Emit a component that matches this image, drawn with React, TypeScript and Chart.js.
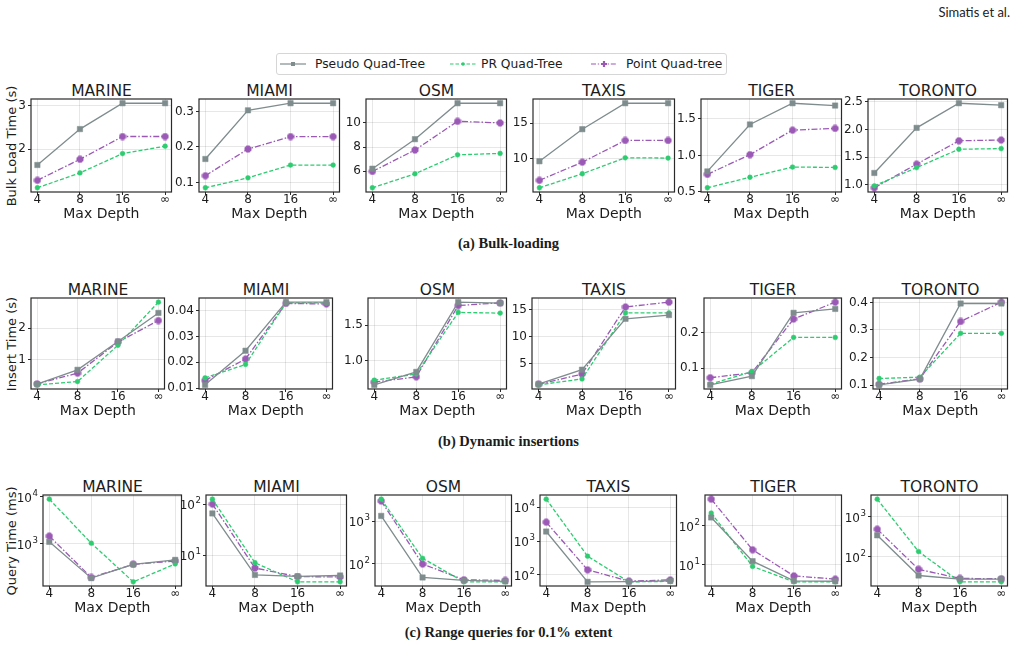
import React, { useEffect, useRef } from 'react';
import { Chart, registerables } from 'chart.js';

Chart.register(...registerables);
Chart.defaults.font.family = 'DejaVu Sans';

// ---- data ----
const depthLabels = ['4', '8', '16', '∞'];
const datasetNames = ['MARINE', 'MIAMI', 'OSM', 'TAXIS', 'TIGER', 'TORONTO'];
const treeNames = ['Pseudo Quad-Tree', 'PR Quad-Tree', 'Point Quad-tree'];

// Bulk-load time (s): one row per dataset, one value per max depth
const bulkPseudo = [
  [1.64, 2.46, 3.05, 3.05],
  [0.166, 0.303, 0.323, 0.323],
  [6.2, 8.65, 11.63, 11.63],
  [9.6, 14.13, 17.8, 17.8],
  [0.78, 1.424, 1.715, 1.683],
  [1.213, 2.03, 2.476, 2.44],
];
const bulkPR = [
  [1.12, 1.46, 1.9, 2.07],
  [0.085, 0.113, 0.149, 0.149],
  [4.62, 5.78, 7.35, 7.47],
  [5.85, 7.83, 10.09, 10.05],
  [0.556, 0.7, 0.84, 0.835],
  [0.98, 1.31, 1.643, 1.654],
];
const bulkPoint = [
  [1.29, 1.77, 2.29, 2.29],
  [0.119, 0.194, 0.229, 0.229],
  [5.97, 7.75, 10.13, 10.0],
  [6.9, 9.47, 12.54, 12.54],
  [0.74, 1.01, 1.346, 1.37],
  [0.945, 1.373, 1.796, 1.81],
];

// Insert time (s)
const insertPseudo = [
  [0.233, 0.685, 1.58, 2.48],
  [0.0113, 0.0245, 0.0433, 0.0433],
  [0.657, 0.84, 1.825, 1.81],
  [1.15, 3.82, 13.3, 14.0],
  [0.053, 0.0775, 0.255, 0.266],
  [0.101, 0.122, 0.396, 0.396],
];
const insertPR = [
  [0.21, 0.315, 1.46, 2.82],
  [0.014, 0.0192, 0.043, 0.043],
  [0.723, 0.81, 1.68, 1.67],
  [1.0, 2.1, 14.4, 14.4],
  [0.055, 0.09, 0.186, 0.186],
  [0.124, 0.129, 0.288, 0.288],
];
const insertPoint = [
  [0.24, 0.58, 1.56, 2.24],
  [0.013, 0.0213, 0.0428, 0.0426],
  [0.695, 0.77, 1.777, 1.815],
  [1.1, 3.0, 15.5, 16.4],
  [0.073, 0.087, 0.2377, 0.285],
  [0.103, 0.123, 0.331, 0.401],
];

// Range-query time (ms)
const queryPseudo = [
  [1100, 186, 365, 454],
  [65.6, 4.1, 3.85, 4.0],
  [1360, 47, 40, 38],
  [1940, 62, 63, 66],
  [164, 12.4, 3.9, 3.8],
  [345, 34.3, 27.8, 27.8],
];
const queryPR = [
  [8900, 1030, 155, 373],
  [125, 7.1, 3.0, 3.0],
  [3400, 134, 37, 37],
  [17800, 359, 62, 64],
  [213, 9.1, 3.66, 3.66],
  [2760, 136, 23.8, 23.8],
];
const queryPoint = [
  [1456, 192, 365, 431],
  [100, 5.6, 3.8, 3.75],
  [3070, 98, 41.5, 40],
  [3690, 141, 65, 71],
  [484, 24.3, 5.2, 4.3],
  [490, 49, 29, 28.5],
];

// y tick labels per panel
const bulkTicks = [
  ['2', '3'],
  ['0.1', '0.2', '0.3'],
  ['6', '8', '10'],
  ['10', '15'],
  ['0.5', '1.0', '1.5'],
  ['1.0', '1.5', '2.0', '2.5'],
];
const insertTicks = [
  ['1', '2'],
  ['0.01', '0.02', '0.03', '0.04'],
  ['1.0', '1.5'],
  ['5', '10', '15'],
  ['0.1', '0.2'],
  ['0.1', '0.2', '0.3', '0.4'],
];
// decades labelled on the logarithmic query-time axes
const queryTickExponents = [
  [3, 4],
  [1, 2],
  [2, 3],
  [2, 3, 4],
  [1, 2],
  [2, 3],
];

const yTitles = ['Bulk Load Time (s)', 'Insert Time (s)', 'Query Time (ms)'];
const captions = ['(a) Bulk-loading', '(b) Dynamic insertions', '(c) Range queries for 0.1% extent'];

// ---- layout (page pixels) ----
const rowTop = [99, 298, 495];
const rowBottom = [192, 389, 586];
const colLeft = [
  [31, 199, 366, 533, 701, 868],
  [31, 199, 368, 532, 704, 873],
  [43, 206, 375, 540, 705, 871],
];
const colRight = [
  [172, 340, 507, 675, 842, 1008],
  [165, 333, 507, 676, 842, 1008],
  [182, 347, 512, 677, 842, 1008],
];
const captionY = [243, 441, 632];

const AXL = 44; // y-axis band width
const AXB = 31; // x-axis band height
const PADT = 12;
const PADR = 4;
const TICK_LEN = 3;
const Y_TICK_PAD = 2;

const TEXT = '#1c1c1c';
const treeColors = ['#7f8c8d', '#2ecc71', '#9b59b6'];

// filled plus marker (slightly rounded) for the point quad-tree
function plusMarker(color: string, size: number, arm: number) {
  const c = document.createElement('canvas');
  c.width = size;
  c.height = size;
  const g = c.getContext('2d')!;
  g.fillStyle = color;
  g.strokeStyle = color;
  g.lineJoin = 'round';
  g.lineWidth = 1;
  const o = (size - arm) / 2;
  const e = 1;
  const f = size - 1;
  g.beginPath();
  g.moveTo(o, e);
  g.lineTo(o + arm, e);
  g.lineTo(o + arm, o);
  g.lineTo(f, o);
  g.lineTo(f, o + arm);
  g.lineTo(o + arm, o + arm);
  g.lineTo(o + arm, f);
  g.lineTo(o, f);
  g.lineTo(o, o + arm);
  g.lineTo(e, o + arm);
  g.lineTo(e, o);
  g.lineTo(o, o);
  g.closePath();
  g.fill();
  g.stroke();
  return c;
}

const framePlugin = {
  id: 'axesFrame',
  afterDatasetsDraw(chart: any) {
    const { ctx, chartArea: a } = chart;
    ctx.save();
    ctx.strokeStyle = '#2a2a2a';
    ctx.lineWidth = 1.2;
    ctx.strokeRect(a.left, a.top, a.right - a.left, a.bottom - a.top);
    ctx.restore();
  },
};

// "10" with a raised exponent for each labelled decade of a log axis
function powerLabelPlugin(exps: number[]) {
  return {
    id: 'powerLabels',
    afterDraw(chart: any) {
      const s = chart.scales.y;
      const ctx = chart.ctx;
      const right = chart.chartArea.left - TICK_LEN - Y_TICK_PAD;
      ctx.save();
      ctx.fillStyle = TEXT;
      ctx.textBaseline = 'middle';
      ctx.textAlign = 'left';
      exps.forEach((e) => {
        const y = s.getPixelForValue(Math.pow(10, e));
        const ex = String(e);
        ctx.font = '8.6px "DejaVu Sans"';
        const ew = ctx.measureText(ex).width;
        ctx.font = '12px "DejaVu Sans"';
        const bw = ctx.measureText('10').width;
        const x0 = right - ew - bw - 0.6;
        ctx.fillText('10', x0, y + 1.8);
        ctx.font = '8.6px "DejaVu Sans"';
        ctx.fillText(ex, x0 + bw + 0.6, y - 3.4);
      });
      ctx.restore();
    },
  };
}

function datasetStyle(k: number, marker: HTMLCanvasElement) {
  const color = treeColors[k];
  const base: any = {
    borderColor: color,
    backgroundColor: color,
    pointBackgroundColor: color,
    pointBorderColor: color,
    borderWidth: 1.3,
    pointBorderWidth: 0.5,
    tension: 0,
    clip: false,
  };
  if (k === 0) return { ...base, pointStyle: 'rect', pointRadius: 3.8 };
  if (k === 1) return { ...base, pointStyle: 'circle', pointRadius: 2.4, borderDash: [4, 2] };
  return { ...base, pointStyle: marker, pointRadius: 4, borderDash: [6, 2, 1.5, 2] };
}

type PanelProps = {
  left: number;
  top: number;
  right: number;
  bottom: number;
  series: number[][];
  tickValues: number[];
  tickLabels: string[] | null;
  exponents: number[] | null;
};

function Panel({ left, top, right, bottom, series, tickValues, tickLabels, exponents }: PanelProps) {
  const ref = useRef<HTMLCanvasElement>(null);
  const w = right - left + AXL + PADR;
  const h = bottom - top + PADT + AXB;
  const log = exponents !== null;

  useEffect(() => {
    const all = series.flat();
    let yMin: number;
    let yMax: number;
    if (log) {
      const lo = Math.log10(Math.min(...all));
      const hi = Math.log10(Math.max(...all));
      const m = (hi - lo) * 0.05;
      yMin = Math.pow(10, lo - m);
      yMax = Math.pow(10, hi + m);
    } else {
      const lo = Math.min(...all);
      const hi = Math.max(...all);
      const m = (hi - lo) * 0.05;
      yMin = lo - m;
      yMax = hi + m;
    }
    const marker = plusMarker(treeColors[2], 8, 3.4);
    const grid = {
      color: 'rgba(0,0,0,0.12)',
      lineWidth: 0.8,
      tickColor: '#2a2a2a',
      tickLength: TICK_LEN,
      tickWidth: 1,
    };
    const plugins: any[] = [framePlugin];
    if (log) plugins.push(powerLabelPlugin(exponents!));
    const chart = new Chart(ref.current!, {
      type: 'line',
      data: {
        datasets: series.map((vals, k) => ({
          label: treeNames[k],
          data: vals.map((v, i) => ({ x: i, y: v })),
          ...datasetStyle(k, marker),
        })),
      },
      options: {
        responsive: false,
        animation: false,
        devicePixelRatio: 1,
        events: [],
        layout: { padding: { top: PADT, right: PADR, left: 0, bottom: 0 } },
        plugins: { legend: { display: false }, tooltip: { enabled: false } },
        scales: {
          x: {
            type: 'linear',
            min: -0.15,
            max: 3.15,
            afterBuildTicks: (s: any) => {
              s.ticks = depthLabels.map((_, i) => ({ value: i }));
            },
            afterFit: (s: any) => {
              s.height = AXB;
            },
            ticks: {
              autoSkip: false,
              maxRotation: 0,
              padding: -1,
              color: TEXT,
              font: { size: 12, lineHeight: 1 },
              callback: (_v: any, i: number) => depthLabels[i],
            },
            grid,
            border: { display: false },
            title: {
              display: true,
              text: 'Max Depth',
              color: TEXT,
              font: { size: 14, lineHeight: 1.2 },
              padding: 0,
            },
          },
          y: {
            type: log ? 'logarithmic' : 'linear',
            min: yMin,
            max: yMax,
            afterBuildTicks: (s: any) => {
              s.ticks = tickValues.map((v) => ({ value: v }));
            },
            afterFit: (s: any) => {
              s.width = AXL;
            },
            ticks: {
              autoSkip: false,
              padding: Y_TICK_PAD,
              color: TEXT,
              font: { size: 12, lineHeight: 1 },
              callback: (_v: any, i: number) => (tickLabels ? tickLabels[i] : ''),
            },
            grid,
            border: { display: false },
          },
        },
      } as any,
      plugins,
    });
    return () => chart.destroy();
  }, []);

  return (
    <canvas
      ref={ref}
      width={w}
      height={h}
      style={{ position: 'absolute', left: left - AXL, top: top - PADT, width: w, height: h }}
    />
  );
}

const rows = [
  {
    series: [bulkPseudo, bulkPR, bulkPoint],
    ticks: bulkTicks.map((t) => t.map(Number)),
    labels: bulkTicks as (string[] | null)[],
    exps: bulkTicks.map(() => null) as (number[] | null)[],
  },
  {
    series: [insertPseudo, insertPR, insertPoint],
    ticks: insertTicks.map((t) => t.map(Number)),
    labels: insertTicks as (string[] | null)[],
    exps: insertTicks.map(() => null) as (number[] | null)[],
  },
  {
    series: [queryPseudo, queryPR, queryPoint],
    ticks: queryTickExponents.map((t) => t.map((e) => Math.pow(10, e))),
    labels: queryTickExponents.map(() => null) as (string[] | null)[],
    exps: queryTickExponents as (number[] | null)[],
  },
];

function LegendSample({ k, x }: { k: number; x: number }) {
  const c = treeColors[k];
  const dash = k === 0 ? undefined : k === 1 ? '3.5 2' : '5 1.8 1.3 1.8';
  return (
    <svg width={26} height={10} style={{ position: 'absolute', left: x, top: 59 }}>
      <line x1={0} y1={5} x2={26} y2={5} stroke={c} strokeWidth={1.2} strokeDasharray={dash} />
      {k === 0 && <rect x={11} y={3} width={4} height={4} fill={c} />}
      {k === 1 && <circle cx={13} cy={5} r={1.8} fill={c} />}
      {k === 2 && (
        <path d="M11.9 2 h2.2 v1.9 h1.9 v2.2 h-1.9 v1.9 h-2.2 v-1.9 h-1.9 v-2.2 h1.9 z" fill={c} />
      )}
    </svg>
  );
}

export default function App() {
  const legendX = [280, 450, 591];
  const legendTextX = [315, 481, 626];
  return (
    <div
      style={{
        position: 'absolute',
        left: 0,
        top: 0,
        width: 1017,
        height: 655,
        background: '#fff',
        fontFamily: 'DejaVu Sans',
        color: TEXT,
        overflow: 'hidden',
      }}
    >
      <div
        style={{
          position: 'absolute',
          left: 880,
          width: 130,
          top: 4,
          textAlign: 'right',
          fontFamily: 'Lato',
          fontSize: 13,
          lineHeight: '16px',
          color: '#222',
        }}
      >
        Simatis et al.
      </div>

      {/* legend */}
      <div
        style={{
          position: 'absolute',
          left: 276,
          top: 53,
          width: 451,
          height: 22,
          boxSizing: 'border-box',
          border: '1px solid #d6d6d6',
          borderRadius: 3,
        }}
      />
      {treeNames.map((name, k) => (
        <React.Fragment key={name}>
          <LegendSample k={k} x={legendX[k]} />
          <div
            style={{
              position: 'absolute',
              left: legendTextX[k],
              top: 56,
              fontSize: 12.3,
              lineHeight: '16px',
              whiteSpace: 'nowrap',
            }}
          >
            {name}
          </div>
        </React.Fragment>
      ))}

      {rows.map((row, r) => (
        <React.Fragment key={r}>
          <div
            style={{
              position: 'absolute',
              left: 12 - 100,
              top: (rowTop[r] + rowBottom[r]) / 2 - 8,
              width: 200,
              height: 16,
              lineHeight: '16px',
              fontSize: 13,
              textAlign: 'center',
              transform: 'rotate(-90deg)',
              whiteSpace: 'nowrap',
            }}
          >
            {yTitles[r]}
          </div>
          {datasetNames.map((name, c) => (
            <React.Fragment key={name}>
              <div
                style={{
                  position: 'absolute',
                  left: colLeft[r][c],
                  width: colRight[r][c] - colLeft[r][c],
                  top: rowTop[r] - 15,
                  height: 15,
                  lineHeight: '15px',
                  fontSize: 15.5,
                  textAlign: 'center',
                  whiteSpace: 'nowrap',
                }}
              >
                {name}
              </div>
              <Panel
                left={colLeft[r][c]}
                right={colRight[r][c]}
                top={rowTop[r]}
                bottom={rowBottom[r]}
                series={row.series.map((s) => s[c])}
                tickValues={row.ticks[c]}
                tickLabels={row.labels[c]}
                exponents={row.exps[c]}
              />
            </React.Fragment>
          ))}
          <div
            style={{
              position: 'absolute',
              left: 0,
              width: 1017,
              top: captionY[r] - 9,
              height: 18,
              lineHeight: '18px',
              textAlign: 'center',
              fontFamily: 'Liberation Serif',
              fontWeight: 'bold',
              fontSize: 14.5,
            }}
          >
            {captions[r]}
          </div>
        </React.Fragment>
      ))}
    </div>
  );
}
